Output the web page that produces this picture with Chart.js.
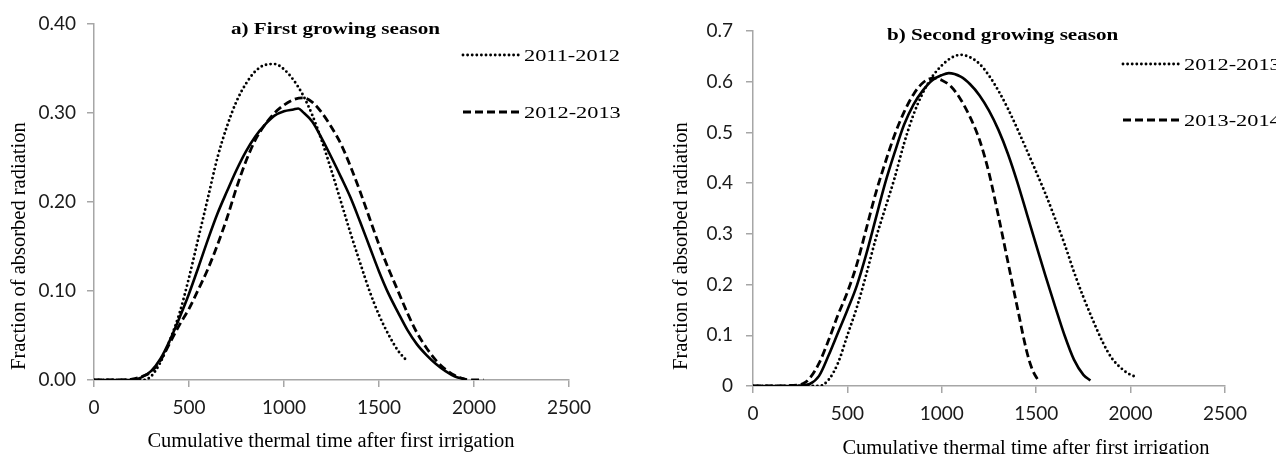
<!DOCTYPE html>
<html>
<head>
<meta charset="utf-8">
<script src="https://cdn.jsdelivr.net/npm/chart.js@4.4.1/dist/chart.umd.min.js"></script>
<style>
  html, body { margin: 0; padding: 0; background: #fff; }
  .wrap { display: flex; width: 1276px; height: 454px; overflow: hidden; }
  .panel { width: 638px; height: 454px; }
</style>
</head>
<body>
<div class="wrap">
  <div class="panel"><canvas id="chartA" width="638" height="454"></canvas></div>
  <div class="panel"><canvas id="chartB" width="638" height="454"></canvas></div>
</div>
<script>
// tick values / labels
const timeTicks = [0, 500, 1000, 1500, 2000, 2500];
const firstYTicks = [0, 0.1, 0.2, 0.3, 0.4];
const firstYLabels = ["0.00", "0.10", "0.20", "0.30", "0.40"];
const secondYTicks = [0, 0.1, 0.2, 0.3, 0.4, 0.5, 0.6, 0.7];
const secondYLabels = ["0", "0.1", "0.2", "0.3", "0.4", "0.5", "0.6", "0.7"];

// a) first growing season
const first2011Time = [0, 100, 200, 260, 300, 350, 400, 450, 500, 550, 600, 650, 700, 750, 800, 850, 900, 950, 1000, 1050, 1100, 1150, 1200, 1250, 1300, 1350, 1400, 1450, 1500, 1550, 1600, 1640];
const first2011Frac = [0, 0, 0, 0, 0.004, 0.02, 0.045, 0.075, 0.115, 0.16, 0.205, 0.25, 0.285, 0.313, 0.333, 0.347, 0.354, 0.355, 0.349, 0.337, 0.32, 0.297, 0.268, 0.235, 0.2, 0.165, 0.132, 0.1, 0.073, 0.051, 0.033, 0.023];

const firstMeanTime = [0, 100, 200, 250, 300, 350, 400, 450, 500, 550, 600, 650, 700, 750, 800, 850, 900, 950, 1000, 1050, 1075, 1100, 1150, 1200, 1250, 1300, 1350, 1400, 1450, 1500, 1550, 1600, 1650, 1700, 1750, 1800, 1850, 1900, 1950];
const firstMeanFrac = [0, 0, 0, 0.003, 0.01, 0.024, 0.045, 0.07, 0.097, 0.127, 0.158, 0.187, 0.212, 0.236, 0.257, 0.274, 0.287, 0.297, 0.302, 0.304, 0.305, 0.301, 0.29, 0.271, 0.25, 0.228, 0.205, 0.178, 0.15, 0.122, 0.097, 0.076, 0.056, 0.04, 0.028, 0.018, 0.01, 0.004, 0.001];

const first2012Time = [0, 100, 200, 250, 300, 350, 400, 450, 500, 550, 600, 650, 700, 750, 800, 850, 900, 950, 1000, 1050, 1100, 1150, 1200, 1250, 1300, 1350, 1400, 1450, 1500, 1550, 1600, 1650, 1700, 1750, 1800, 1850, 1900, 1950, 2000, 2050];
const first2012Frac = [0, 0, 0.001, 0.004, 0.009, 0.022, 0.042, 0.062, 0.08, 0.102, 0.125, 0.152, 0.182, 0.216, 0.246, 0.27, 0.287, 0.3, 0.309, 0.315, 0.317, 0.312, 0.3, 0.284, 0.265, 0.24, 0.212, 0.182, 0.152, 0.125, 0.1, 0.075, 0.053, 0.036, 0.022, 0.012, 0.005, 0.001, 0, 0];

// b) second growing season
const second2012Time = [0, 100, 200, 300, 350, 400, 450, 500, 550, 600, 650, 700, 750, 800, 850, 900, 950, 1000, 1050, 1100, 1150, 1200, 1250, 1300, 1350, 1400, 1450, 1500, 1550, 1600, 1650, 1700, 1750, 1800, 1850, 1900, 1950, 2000, 2030];
const second2012Frac = [0, 0, 0, 0, 0, 0.012, 0.045, 0.1, 0.155, 0.22, 0.29, 0.35, 0.41, 0.478, 0.535, 0.578, 0.61, 0.632, 0.647, 0.653, 0.648, 0.635, 0.612, 0.582, 0.547, 0.507, 0.465, 0.422, 0.378, 0.33, 0.28, 0.225, 0.175, 0.13, 0.088, 0.055, 0.035, 0.022, 0.018];

const secondMeanTime = [0, 100, 200, 250, 300, 350, 400, 450, 500, 550, 600, 650, 700, 750, 800, 850, 900, 950, 1000, 1037, 1100, 1150, 1200, 1250, 1300, 1350, 1400, 1450, 1500, 1550, 1600, 1650, 1700, 1750, 1787];
const secondMeanFrac = [0, 0, 0, 0.001, 0.004, 0.02, 0.06, 0.105, 0.15, 0.198, 0.26, 0.33, 0.4, 0.46, 0.515, 0.555, 0.583, 0.603, 0.613, 0.617, 0.61, 0.595, 0.573, 0.543, 0.505, 0.458, 0.402, 0.34, 0.278, 0.216, 0.157, 0.1, 0.052, 0.022, 0.011];

const second2013Time = [0, 100, 200, 266, 300, 350, 400, 450, 500, 550, 600, 650, 700, 750, 800, 850, 900, 957, 1000, 1050, 1100, 1150, 1200, 1250, 1300, 1350, 1400, 1450, 1480, 1516];
const second2013Frac = [0, 0, 0.001, 0.005, 0.015, 0.045, 0.09, 0.14, 0.185, 0.24, 0.31, 0.38, 0.44, 0.495, 0.54, 0.575, 0.598, 0.607, 0.603, 0.59, 0.565, 0.53, 0.485, 0.42, 0.335, 0.245, 0.155, 0.068, 0.032, 0.008];

const SERIF = '"Liberation Serif", "Times New Roman", serif';
Chart.defaults.font.family = "Lato, sans-serif";
Chart.defaults.color = "#1a1a1a";

function pts(xs, ys) {
  return xs.map((x, i) => ({ x, y: ys[i] }));
}

function dotted(label, xs, ys) {
  return { label, data: pts(xs, ys), borderColor: "#000", borderWidth: 2.9,
    borderDash: [0, 4.6], borderCapStyle: "round", pointRadius: 0,
    cubicInterpolationMode: "monotone" };
}
function dashed(label, xs, ys) {
  return { label, data: pts(xs, ys), borderColor: "#000", borderWidth: 2.8,
    borderDash: [8, 4], borderCapStyle: "butt", pointRadius: 0,
    cubicInterpolationMode: "monotone" };
}
function solid(xs, ys) {
  return { label: "", data: pts(xs, ys), borderColor: "#000", borderWidth: 2.6,
    pointRadius: 0, cubicInterpolationMode: "monotone" };
}

function stretchText(ctx, text, x, y, sx) {
  ctx.save();
  ctx.translate(x, y);
  ctx.scale(sx, 1);
  ctx.fillText(text, 0, 0);
  ctx.restore();
}

// titles, legend rows and axis titles drawn on top of the chart
const panelText = {
  id: "panelText",
  afterDraw(chart, args, o) {
    const ctx = chart.ctx;
    ctx.save();
    ctx.fillStyle = "#000";
    ctx.textAlign = "left";
    ctx.textBaseline = "alphabetic";

    ctx.font = "bold 17.6px " + SERIF;
    stretchText(ctx, o.title, o.titleX, o.titleY, 1.2);

    ctx.font = "20.5px " + SERIF;
    ctx.textAlign = "center";
    ctx.fillText(o.xTitle, o.xTitleX, o.xTitleY);

    ctx.save();
    ctx.translate(o.yTitleX, o.yTitleY);
    ctx.rotate(-Math.PI / 2);
    ctx.textAlign = "left";
    ctx.textBaseline = "middle";
    ctx.fillText(o.yTitle, 0, 0);
    ctx.restore();

    ctx.font = "16.8px " + SERIF;
    ctx.textAlign = "left";
    let row = 0;
    chart.data.datasets.forEach((ds) => {
      if (!ds.label) return;
      const y = o.legendRows[row++];
      ctx.save();
      ctx.strokeStyle = ds.borderColor;
      ctx.lineWidth = ds.borderWidth;
      ctx.setLineDash(ds.borderDash || []);
      ctx.lineCap = ds.borderCapStyle || "butt";
      ctx.beginPath();
      ctx.moveTo(o.legendX, y);
      ctx.lineTo(o.legendX + o.legendLen, y);
      ctx.stroke();
      ctx.restore();
      stretchText(ctx, ds.label, o.legendX + o.legendLen + 4, y + 6, 1.33);
    });
    ctx.restore();
  }
};

function makeChart(el, cfg) {
  const axisColor = "#a6a6a6";
  return new Chart(el, {
    type: "line",
    data: { datasets: cfg.datasets },
    options: {
      responsive: false,
      animation: false,
      devicePixelRatio: 1,
      layout: { padding: { top: cfg.area.top, right: cfg.area.right, left: 0, bottom: 0 } },
      plugins: {
        legend: { display: false },
        tooltip: { enabled: false },
        panelText: cfg.text
      },
      scales: {
        x: {
          type: "linear",
          min: 0,
          max: 2500,
          afterBuildTicks: (s) => { s.ticks = timeTicks.map((v) => ({ value: v })); },
          afterFit: (s) => { s.height = cfg.area.xHeight; },
          ticks: { font: { size: 19 }, padding: cfg.area.xPad, maxRotation: 0,
            callback: (v) => String(v) },
          grid: { drawOnChartArea: false, drawTicks: true, tickLength: 7, color: axisColor, lineWidth: 1.5 },
          border: { color: axisColor, width: 1.5 }
        },
        y: {
          min: 0,
          max: cfg.yMax,
          afterBuildTicks: (s) => { s.ticks = cfg.yTicks.map((v) => ({ value: v })); },
          afterFit: (s) => { s.width = cfg.area.yWidth; },
          ticks: { font: { size: 19 }, padding: cfg.area.yPad,
            callback: (v) => cfg.yLabels[cfg.yTicks.findIndex((t) => Math.abs(t - v) < 1e-9)] },
          grid: { drawOnChartArea: false, drawTicks: true, tickLength: 7, color: axisColor, lineWidth: 1.5 },
          border: { color: axisColor, width: 1.5 }
        }
      }
    },
    plugins: [panelText]
  });
}

const xTitle = "Cumulative thermal time after first irrigation";
const yTitle = "Fraction of absorbed radiation";

makeChart(document.getElementById("chartA"), {
  datasets: [
    dotted("2011-2012", first2011Time, first2011Frac),
    dashed("2012-2013", first2012Time, first2012Frac),
    solid(firstMeanTime, firstMeanFrac)
  ],
  yMax: 0.4,
  yTicks: firstYTicks,
  yLabels: firstYLabels,
  area: { top: 24, right: 69, xHeight: 74, yWidth: 94, xPad: 9.5, yPad: 11 },
  text: {
    title: "a) First growing season", titleX: 231, titleY: 34,
    xTitle, xTitleX: 331, xTitleY: 447,
    yTitle, yTitleX: 20, yTitleY: 370,
    legendX: 463, legendLen: 57, legendRows: [55, 112]
  }
});

makeChart(document.getElementById("chartB"), {
  datasets: [
    dotted("2012-2013", second2012Time, second2012Frac),
    dashed("2013-2014", second2013Time, second2013Frac),
    solid(secondMeanTime, secondMeanFrac)
  ],
  yMax: 0.7,
  yTicks: secondYTicks,
  yLabels: secondYLabels,
  area: { top: 31, right: 51, xHeight: 68, yWidth: 115, xPad: 9, yPad: 13 },
  text: {
    title: "b) Second growing season", titleX: 249, titleY: 39.5,
    xTitle, xTitleX: 388, xTitleY: 454,
    yTitle, yTitleX: 44, yTitleY: 370,
    legendX: 485, legendLen: 57, legendRows: [64, 120]
  }
});
</script>
</body>
</html>
